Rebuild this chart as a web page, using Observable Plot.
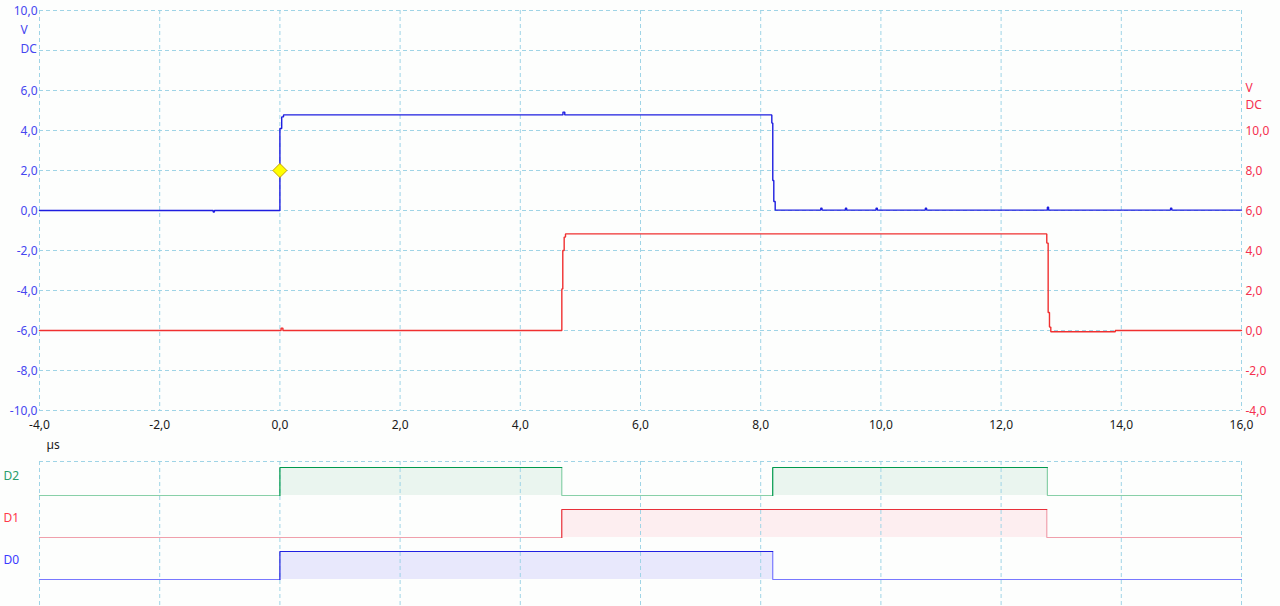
<!DOCTYPE html>
<html>
<head>
<meta charset="utf-8">
<script src="https://cdn.jsdelivr.net/npm/d3@7"></script>
<script src="https://cdn.jsdelivr.net/npm/@observablehq/plot@0.6"></script>
<style>
  html, body { margin: 0; padding: 0; background: #fdfefd; }
  #chart { width: 1280px; height: 606px; background: #fdfefd; font-family: "Noto Sans", "Open Sans", sans-serif; }
  #chart svg { display: block; background: #fdfefd; }
</style>
</head>
<body>
<div id="chart"></div>
<script>
// ---------- data ----------
const xTicks = [-4, -2, 0, 2, 4, 6, 8, 10, 12, 14, 16];
const gridY = [10, 8, 6, 4, 2, 0, -2, -4, -6, -8, -10];
const leftTicks = [10, 6, 4, 2, 0, -2, -4, -6, -8, -10];
const rightTicks = [10, 8, 6, 4, 2, 0, -2, -4];
const rightOffset = -6; // channel B axis is shifted by 6 V relative to channel A

// channel A (blue) trace: [time µs, volts]
const blueTrace = [
  [-4, 0], [-1.11, 0], [-1.11, -0.08], [-1.09, -0.08], [-1.09, 0],
  [0, 0], [0, 4.1], [0.03, 4.1], [0.03, 4.68], [0.06, 4.68], [0.06, 4.78],
  [4.71, 4.78], [4.71, 4.92], [4.74, 4.92], [4.74, 4.78],
  [8.185, 4.78], [8.185, 4.37], [8.201, 4.37], [8.201, 1.5], [8.218, 1.5],
  [8.218, 0.45], [8.241, 0.45], [8.241, 0.02],
  [9.0, 0.02], [9.0, 0.12], [9.02, 0.12], [9.02, 0.02],
  [9.41, 0.02], [9.41, 0.12], [9.43, 0.12], [9.43, 0.02],
  [9.92, 0.02], [9.92, 0.12], [9.94, 0.12], [9.94, 0.02],
  [10.74, 0.02], [10.74, 0.12], [10.76, 0.12], [10.76, 0.02],
  [12.77, 0.02], [12.77, 0.16], [12.79, 0.16], [12.79, 0.02],
  [14.82, 0.02], [14.82, 0.12], [14.84, 0.12], [14.84, 0.02],
  [16, 0.02]
];

// channel B (red) trace: [time µs, volts on right axis]
const redTrace = [
  [-4, 0], [0.02, 0], [0.02, 0.12], [0.05, 0.12], [0.05, 0],
  [4.691, 0], [4.691, 2.08], [4.707, 2.08], [4.707, 4.0], [4.73, 4.0],
  [4.73, 4.67], [4.752, 4.67], [4.752, 4.83],
  [12.76, 4.83], [12.76, 4.37], [12.783, 4.37], [12.783, 0.9], [12.805, 0.9],
  [12.805, 0.17], [12.827, 0.17], [12.827, -0.06], [13.9, -0.06], [13.9, 0], [16, 0]
];

const triggerTime = [0];
const triggerVolt = [2.0];

// digital channels
const digNames = ["D0", "D1", "D2"];
const digRise = [[0], [4.69], [0, 8.2]];
const digFall = [[8.2], [12.76], [4.69, 12.77]];
const digDark = ["#2020e0", "#e8303a", "#00994c"];
const digLight = ["#7878ff", "#f0a0ac", "#88d0a8"];
const digFill = ["#e8e8fc", "#fdeef0", "#eaf5ef"];
const digLabelColor = ["#3a3aff", "#ff3a4a", "#2a9d6a"];

// ---------- helpers ----------
const fmt = d => d.toFixed(1).replace(".", ",");
const gridColor = "#9fd4e6";
const dash = "4,3";
const font = "Noto Sans";

// ---------- analog plot ----------
const analog = Plot.plot({
  width: 1280, height: 456,
  marginLeft: 39, marginRight: 39, marginTop: 10, marginBottom: 46,
  x: {domain: [-4, 16], axis: null},
  y: {domain: [-10, 10], axis: null},
  style: {fontFamily: font, fontSize: "12px", background: "#fdfefd"},
  marks: [
    Plot.ruleX(xTicks, {stroke: gridColor, strokeDasharray: dash, strokeWidth: 1}),
    Plot.ruleY(gridY, {stroke: gridColor, strokeDasharray: dash, strokeWidth: 1}),
    Plot.line(redTrace, {x: d => d[0], y: d => d[1] + rightOffset, stroke: "#f03030", strokeWidth: 1.4, strokeLinejoin: "miter"}),
    Plot.line(blueTrace, {x: d => d[0], y: d => d[1], stroke: "#1e1ee0", strokeWidth: 1.4, strokeLinejoin: "miter"}),
    Plot.dot(triggerTime.map((t, i) => [t, triggerVolt[i]]), {x: d => d[0], y: d => d[1], symbol: "diamond2", r: 6.3, fill: "#ffff00", stroke: "#c8a000", strokeWidth: 1}),
    // left axis (channel A)
    Plot.text(leftTicks, {x: -4, y: d => d, text: fmt, textAnchor: "end", dx: -2, dy: 1, fill: "#4646f0"}),
    Plot.text(["V"], {frameAnchor: "top-left", dx: -19, dy: 15, textAnchor: "start", fill: "#4646f0"}),
    Plot.text(["DC"], {frameAnchor: "top-left", dx: -19, dy: 34, textAnchor: "start", fill: "#4646f0"}),
    // right axis (channel B)
    Plot.text(rightTicks, {x: 16, y: d => d + rightOffset, text: fmt, textAnchor: "start", dx: 4, dy: 1, fill: "#f5304f"}),
    Plot.text(["V"], {frameAnchor: "top-right", dx: 4, dy: 73, textAnchor: "start", fill: "#f5304f"}),
    Plot.text(["DC"], {frameAnchor: "top-right", dx: 4, dy: 90, textAnchor: "start", fill: "#f5304f"}),
    // x axis
    Plot.text(xTicks, {x: d => d, y: -10, text: fmt, dy: 15, fill: "#1a1a1a"}),
    Plot.text(["µs"], {frameAnchor: "bottom-left", dx: 7, dy: 38, fill: "#1a1a1a"})
  ]
});

// ---------- digital plot ----------
const rects = [], lowSegs = [], highSegs = [];
digNames.forEach((name, i) => {
  const base = i * 3, high = base + 2;
  const r = digRise[i], f = digFall[i];
  r.forEach((t, k) => {
    rects.push({x1: t, x2: f[k], y1: base, y2: high, ch: i});
    highSegs.push({ch: i, id: `${i}h${k}`, pts: [[t, base], [t, high], [f[k], high]]});
  });
  // low segments incl. falling edges
  const segs = [];
  let cur = [[-4, base]];
  r.forEach((t, k) => {
    cur.push([t, base]);
    segs.push(cur);
    cur = [[f[k], high], [f[k], base]];
  });
  cur.push([16, base]);
  segs.push(cur);
  segs.forEach((s, k) => lowSegs.push({ch: i, id: `${i}l${k}`, pts: s}));
});
const flat = arr => arr.flatMap(s => s.pts.map(p => ({x: p[0], y: p[1], ch: s.ch, id: s.id})));

const digital = Plot.plot({
  width: 1280, height: 150,
  marginLeft: 39, marginRight: 39, marginTop: 5, marginBottom: 0,
  x: {domain: [-4, 16], axis: null},
  y: {domain: [-27 / 14, 118 / 14], axis: null},
  style: {fontFamily: font, fontSize: "12px", background: "#fdfefd"},
  marks: [
    Plot.rect(rects, {x1: "x1", x2: "x2", y1: "y1", y2: "y2", fill: d => digFill[d.ch]}),
    Plot.ruleX(xTicks, {stroke: gridColor, strokeDasharray: dash, strokeWidth: 1}),
    Plot.ruleY([118 / 14], {stroke: gridColor, strokeDasharray: dash, strokeWidth: 1}),
    Plot.line(flat(lowSegs), {x: "x", y: "y", z: "id", stroke: d => digLight[d.ch], strokeWidth: 1.2, strokeLinejoin: "miter"}),
    Plot.line(flat(highSegs), {x: "x", y: "y", z: "id", stroke: d => digDark[d.ch], strokeWidth: 1.2, strokeLinejoin: "miter"}),
    Plot.text(digNames, {x: -4, y: (d, i) => i * 3 + 1.4, text: d => d, dx: -36, textAnchor: "start", fill: (d, i) => digLabelColor[i]})
  ]
});

const root = document.getElementById("chart");
root.appendChild(analog);
root.appendChild(digital);
</script>
</body>
</html>
